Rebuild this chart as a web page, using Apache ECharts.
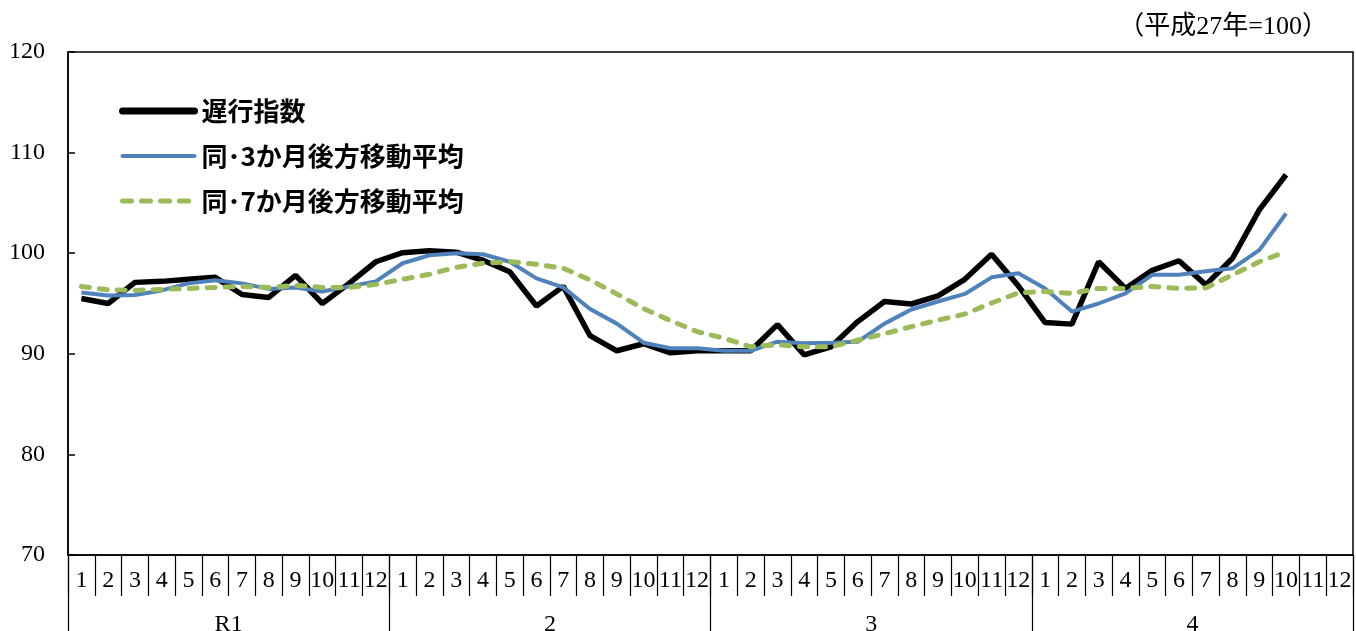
<!DOCTYPE html>
<html><head><meta charset="utf-8">
<script src="https://cdn.jsdelivr.net/npm/echarts@6/dist/echarts.min.js"></script>
<style>html,body{margin:0;padding:0;background:#fff;}#c{width:1356px;height:631px;}</style>
</head><body><div id="c"></div>
<script>
const months = [];
const monthNames = ['1','2','3','4','5','6','7','8','9','10','11','12'];
const years = ['R1','2','3','4'];
for (const y of years) for (const m of monthNames) months.push(y + '-' + m);

const seriesNames = ['遅行指数', '同･3か月後方移動平均', '同･7か月後方移動平均'];
const lagging = [
  95.5, 95.0, 97.1, 97.2, 97.4, 97.6, 95.9, 95.6, 97.8, 95.0, 97.0, 99.15,
  100.05, 100.25, 100.1, 99.3, 98.15, 94.75, 96.7, 91.8, 90.3, 91.0, 90.1, 90.3,
  90.3, 90.3, 92.9, 89.9, 90.7, 93.2, 95.2, 94.95, 95.75, 97.4, 99.9, 96.75,
  93.1, 92.95, 99.15, 96.5, 98.3, 99.25, 96.85, 99.5, 104.3, 107.8, null, null
];
const ma3 = [
  96.1, 95.8, 95.85, 96.3, 97.0, 97.3, 97.0, 96.45, 96.6, 96.2, 96.7, 97.2,
  99.0, 99.8, 100.0, 99.9, 99.15, 97.5, 96.6, 94.45, 93.0, 91.1, 90.55, 90.55,
  90.3, 90.3, 91.2, 91.05, 91.1, 91.2, 93.0, 94.4, 95.2, 95.95, 97.6, 98.0,
  96.5, 94.2, 95.0, 96.0, 97.85, 97.85, 98.2, 98.5, 100.3, 103.95, null, null
];
const ma7 = [
  96.7, 96.35, 96.3, 96.4, 96.5, 96.6, 96.7, 96.6, 96.8, 96.6, 96.6, 96.9,
  97.4, 97.9, 98.6, 99.0, 99.15, 98.9, 98.5, 97.35, 95.95, 94.5, 93.3, 92.2,
  91.55, 90.7, 90.9, 90.7, 90.7, 91.35, 92.0, 92.7, 93.35, 93.95, 95.05, 96.05,
  96.2, 96.0, 96.5, 96.5, 96.7, 96.5, 96.55, 97.85, 99.15, 100.15, null, null
];
const yTicks = { min: 70, max: 120, interval: 10 };
const baseNote = '（平成27年=100）';

const serif = '"Liberation Serif", "Noto Sans CJK JP", serif';
const colors = ['#000000', '#4F81BD', '#9BBB59'];
const chart = echarts.init(document.getElementById('c'), null, { renderer: 'canvas' });
chart.setOption({
  animation: false,
  backgroundColor: '#fff',
  title: {
    text: baseNote, right: 23, top: 9,
    textStyle: { fontFamily: serif, fontSize: 26, fontWeight: 'normal', color: '#000' }
  },
  legend: {
    orient: 'vertical', left: 114, top: 93, itemWidth: 72, itemHeight: 14, itemGap: 19,
    itemStyle: { color: 'rgba(0,0,0,0)', borderColor: 'rgba(0,0,0,0)', borderWidth: 0 },
    data: [
      { name: seriesNames[0], lineStyle: { width: 7, color: colors[0], cap: 'round' } },
      { name: seriesNames[1], lineStyle: { width: 4, color: colors[1], cap: 'round' } },
      { name: seriesNames[2], lineStyle: { width: 5, color: colors[2], type: [9, 10], cap: 'round' } }
    ],
    textStyle: { fontFamily: '"Noto Sans CJK JP", sans-serif', fontSize: 26, fontWeight: 'bold', color: '#000', padding: [0, 0, 0, 2] }
  },
  grid: { left: 68, right: 3, top: 52, bottom: 76, outerBoundsMode: 'none', containLabel: false,
    show: true, borderColor: '#000', borderWidth: 1.5, backgroundColor: 'transparent' },
  xAxis: [
    {
      type: 'category', data: months, boundaryGap: true, position: 'bottom',
      axisLine: { show: true, lineStyle: { color: '#000', width: 1.5 } },
      axisTick: { show: true, interval: 0, length: 41, lineStyle: { color: '#000', width: 1.2 } },
      axisLabel: { interval: 0, margin: 14, fontFamily: serif, fontSize: 24, color: '#000',
        formatter: v => v.split('-')[1] },
      splitLine: { show: false }
    },
    {
      type: 'category', data: years, boundaryGap: true, position: 'bottom', offset: 0,
      axisLine: { show: false },
      axisTick: { show: true, interval: 0, length: 80, lineStyle: { color: '#000', width: 1.2 } },
      axisLabel: { interval: 0, margin: 58, fontFamily: serif, fontSize: 24, color: '#000' },
      splitLine: { show: false }
    }
  ],
  yAxis: {
    type: 'value', min: yTicks.min, max: yTicks.max, interval: yTicks.interval,
    axisLine: { show: true, lineStyle: { color: '#000', width: 1.5 } },
    axisTick: { show: true, inside: true, length: 7, lineStyle: { color: '#000', width: 1.5 } },
    axisLabel: { margin: 23, fontFamily: serif, fontSize: 24, color: '#000' },
    splitLine: { show: false }
  },
  series: [
    { name: seriesNames[0], type: 'line', data: lagging, symbol: 'none', xAxisIndex: 0,
      lineStyle: { color: colors[0], width: 5.5 }, itemStyle: { color: colors[0] } },
    { name: seriesNames[1], type: 'line', data: ma3, symbol: 'none', xAxisIndex: 0,
      lineStyle: { color: colors[1], width: 4 }, itemStyle: { color: colors[1] } },
    { name: seriesNames[2], type: 'line', data: ma7, symbol: 'none', xAxisIndex: 0,
      lineStyle: { color: colors[2], width: 5, type: [8, 10], cap: 'round' }, itemStyle: { color: colors[2] } }
  ]
});
</script></body></html>
